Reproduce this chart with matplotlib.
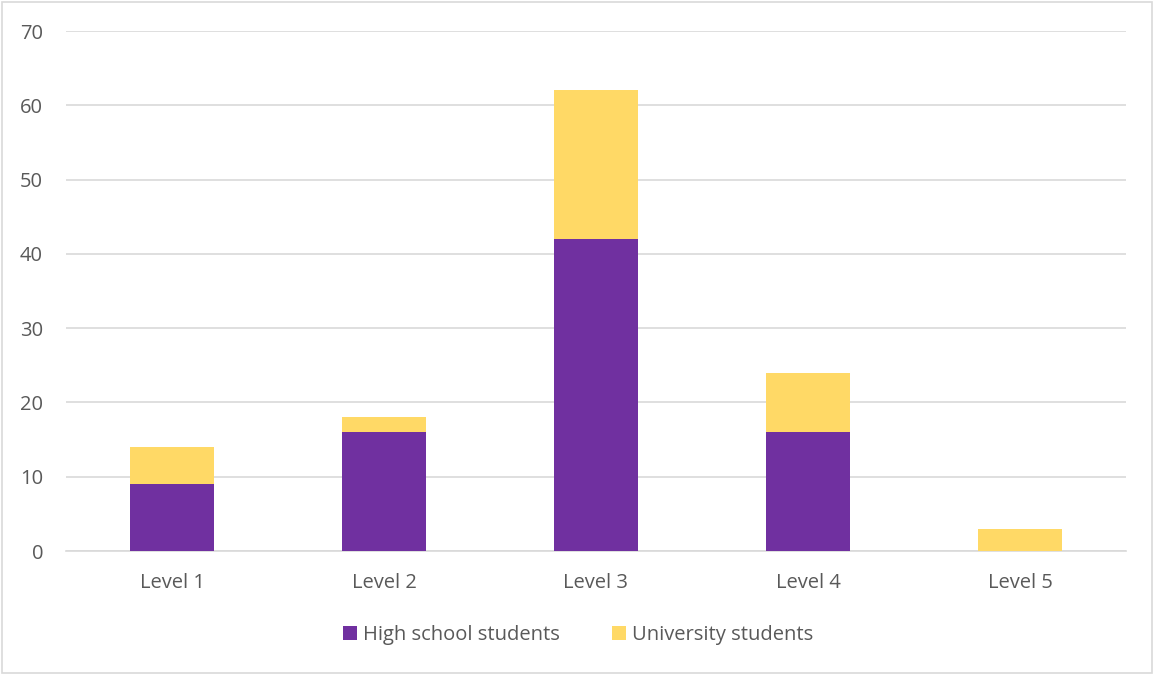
import matplotlib
matplotlib.use('Agg')
import matplotlib.pyplot as plt
import numpy as np
from matplotlib.patches import Rectangle

# dados
niveis = ['Level 1', 'Level 2', 'Level 3', 'Level 4', 'Level 5']
ensino_medio = [9, 16, 42, 16, 0]
universidade = [5, 2, 20, 8, 3]

roxo = '#7030A0'
amarelo = '#FFD966'
cinza_texto = '#595959'
cinza_grade = '#D9D9D9'

plt.rcParams['font.family'] = ['Open Sans', 'DejaVu Sans']

fig = plt.figure(figsize=(11.54, 6.75), dpi=100)
ax = fig.add_axes([0.0572, 0.1837, 0.9185, 0.7703])

x = np.arange(len(niveis))
ax.bar(x, ensino_medio, width=0.4, color=roxo, label='High school students', zorder=3)
ax.bar(x, universidade, width=0.4, bottom=ensino_medio, color=amarelo,
       label='University students', zorder=3)

ax.set_xlim(-0.5, len(niveis) - 0.5)
ax.set_ylim(0, 70)
ax.set_yticks(range(0, 71, 10))
ax.set_xticks(x)
ax.set_xticklabels(niveis)
ax.grid(axis='y', color=cinza_grade, linewidth=1.2, zorder=0)
for lado in ['top', 'right', 'left']:
    ax.spines[lado].set_visible(False)
ax.spines['bottom'].set_color(cinza_grade)
ax.spines['bottom'].set_linewidth(1.2)
ax.tick_params(length=0, colors=cinza_texto, labelsize=14.5)
ax.tick_params(axis='y', pad=16.5)
ax.tick_params(axis='x', pad=16)

fig.legend(loc='center', bbox_to_anchor=(0.501, 0.059), ncol=2, frameon=False,
           fontsize=14.5, labelcolor=cinza_texto, handlelength=0.7, handleheight=0.7,
           handletextpad=0.3, columnspacing=2.6)

# borda da figura
fig.patches.append(Rectangle((0.002, 0.003), 0.996, 0.994, transform=fig.transFigure,
                             fill=False, edgecolor=cinza_grade, linewidth=1.2))

fig.savefig('out.png', dpi=100)
